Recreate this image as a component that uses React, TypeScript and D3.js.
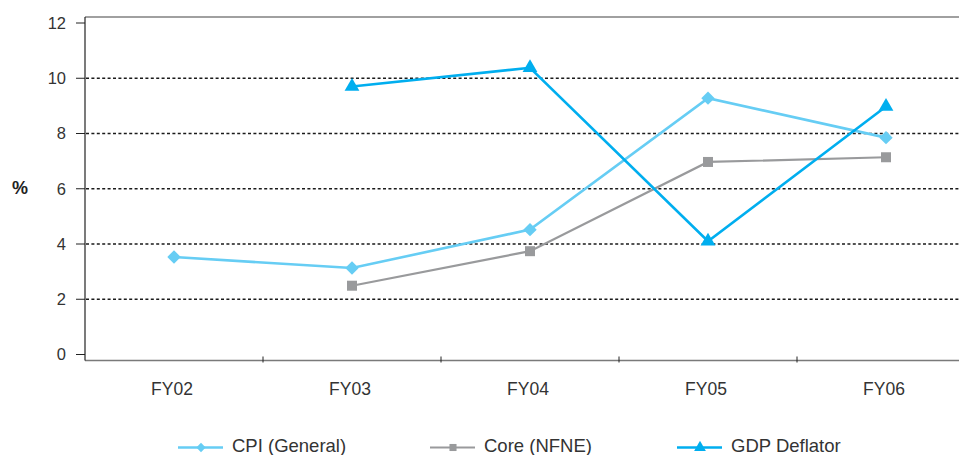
import React from "react";
import * as d3 from "d3";

const categories = ["FY02", "FY03", "FY04", "FY05", "FY06"];
const cpiValues: (number | null)[] = [3.53, 3.13, 4.52, 9.28, 7.85];
const coreValues: (number | null)[] = [null, 2.49, 3.74, 6.97, 7.14];
const gdpValues: (number | null)[] = [null, 9.7, 10.38, 4.1, 8.98];
const yTicks = [0, 2, 4, 6, 8, 10, 12];
const gridValues = [2, 4, 6, 8, 10];

const seriesList = [
  { name: "CPI (General)", values: cpiValues, color: "#66cdf4", width: 2.6, marker: "diamond", legendX: 178 },
  { name: "Core (NFNE)", values: coreValues, color: "#999a9c", width: 2.2, marker: "square", legendX: 430 },
  { name: "GDP Deflator", values: gdpValues, color: "#00aeef", width: 2.6, marker: "triangle", legendX: 677 },
];

const W = 959;
const H = 455;
const left = 85;
const bandW = 178;
const axisBottom = 360.5;
const top = 17;

const x = d3.scaleBand<string>().domain(categories).range([left, left + bandW * categories.length]);
const y = d3.scaleLinear().domain([0, 12]).range([354.5, 23]);

function markerPath(kind: string, size: number): string {
  const sym =
    kind === "diamond"
      ? (d3 as any).symbolDiamond2 || d3.symbolDiamond
      : kind === "square"
      ? d3.symbolSquare
      : d3.symbolTriangle;
  return d3.symbol().type(sym).size(size)() || "";
}

export default function App() {
  const font = "'Liberation Sans', Arial, sans-serif";
  return (
    <svg width={W} height={H} style={{ position: "absolute", left: 0, top: 0, background: "#fff" }}>
      {gridValues.map((v) => (
        <line key={v} x1={left + 1} x2={W} y1={y(v)} y2={y(v)} stroke="#1a1a1a" strokeWidth={1.6} strokeDasharray="3,2.4" />
      ))}
      <line x1={left} x2={W} y1={top} y2={top} stroke="#808080" strokeWidth={1.6} />
      <line x1={left} x2={W} y1={axisBottom} y2={axisBottom} stroke="#7a7a7a" strokeWidth={1.6} />
      {categories.slice(1).map((c) => (
        <line key={c} x1={x(c)!} x2={x(c)!} y1={axisBottom - 4} y2={axisBottom + 2} stroke="#222" strokeWidth={1} />
      ))}
      <line x1={left} x2={left} y1={top} y2={axisBottom} stroke="#222" strokeWidth={1.2} />
      {yTicks.map((t) => (
        <g key={t}>
          <line x1={left - 9} x2={left} y1={y(t)} y2={y(t)} stroke="#222" strokeWidth={1} />
          <text x={left - 19} y={y(t)} dy="0.35em" textAnchor="end" fontFamily={font} fontSize={16.5} fill="#333">
            {t}
          </text>
        </g>
      ))}
      <text x={20} y={188} dy="0.35em" textAnchor="middle" fontFamily={font} fontSize={18} fontWeight="bold" fill="#222">
        %
      </text>
      {categories.map((c) => (
        <text key={c} x={x(c)! + bandW / 2 - 2} y={389} dy="0.35em" textAnchor="middle" fontFamily={font} fontSize={17.5} fill="#333">
          {c}
        </text>
      ))}
      {seriesList.map((s) => {
        const pts = s.values
          .map((v, i) => ({ v, c: categories[i] }))
          .filter((p) => p.v !== null) as { v: number; c: string }[];
        const line = d3
          .line<{ v: number; c: string }>()
          .x((p) => x(p.c)! + bandW / 2)
          .y((p) => y(p.v));
        const size = s.marker === "diamond" ? 115 : s.marker === "square" ? 100 : 95;
        return (
          <g key={s.name}>
            <path d={line(pts) || ""} fill="none" stroke={s.color} strokeWidth={s.width} />
            {pts.map((p) => (
              <path
                key={p.c}
                d={markerPath(s.marker, size)}
                transform={`translate(${x(p.c)! + bandW / 2},${y(p.v)})`}
                fill={s.color}
              />
            ))}
          </g>
        );
      })}
      {seriesList.map((s) => {
        const ly = 447.5;
        const size = s.marker === "diamond" ? 55 : s.marker === "square" ? 50 : 60;
        return (
          <g key={s.name}>
            <line x1={s.legendX} x2={s.legendX + 45} y1={ly} y2={ly} stroke={s.color} strokeWidth={s.width} />
            <path d={markerPath(s.marker, size)} transform={`translate(${s.legendX + 23},${ly})`} fill={s.color} />
            <text x={s.legendX + 54} y={ly - 1.5} dy="0.35em" fontFamily={font} fontSize={18.5} fill="#333">
              {s.name}
            </text>
          </g>
        );
      })}
    </svg>
  );
}
